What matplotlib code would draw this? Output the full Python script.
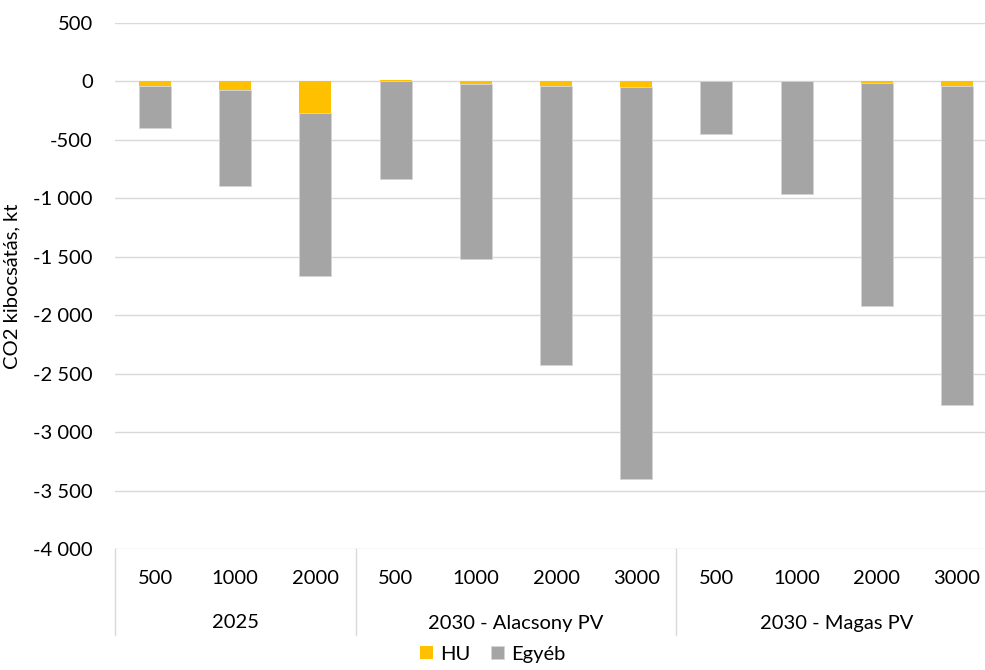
import matplotlib
matplotlib.use("Agg")
import matplotlib.pyplot as plt
import matplotlib.transforms as mtransforms
import numpy as np

# data (kt CO2)
groups = ["2025", "2030 - Alacsony PV", "2030 - Magas PV"]
group_sizes = [3, 4, 4]
capacities = ["500", "1000", "2000", "500", "1000", "2000", "3000", "500", "1000", "2000", "3000"]
hu = [-40, -75, -270, 10, -20, -40, -50, 0, 0, -10, -35]
egyeb = [-362, -822, -1397, -838, -1501, -2387, -3352, -453, -966, -1913, -2734]

yticks = [500, 0, -500, -1000, -1500, -2000, -2500, -3000, -3500, -4000]

plt.rcParams['font.family'] = ['Lato', 'DejaVu Sans']
FS = 14.5

fig = plt.figure(figsize=(9.85, 6.7), dpi=100)
W, H = 985, 670
ax = fig.add_axes([115 / W, (H - 549) / H, (997 - 115) / W, (549 - 23) / H])

x = np.arange(len(capacities))
hu = np.array(hu)
egyeb = np.array(egyeb)
# HU sits on top (nearest zero), Egyéb stacked below it
egy_bottom = np.where(hu < 0, hu, 0)
ax.bar(x, hu, width=0.4, color='#FFC000', zorder=3, label='HU')
ax.bar(x, egyeb, width=0.4, bottom=egy_bottom, color='#A5A5A5', zorder=3,
       edgecolor='#d4d4d4', linewidth=0.6, label='Egyéb')

ax.set_xlim(-0.5, len(capacities) - 0.5)
ax.set_ylim(-4000, 500)
ax.set_yticks(yticks)
ax.set_yticklabels([f"{v:,}".replace(",", " ") for v in yticks], fontsize=FS, color='#000000')
ax.tick_params(axis='y', length=0, pad=16)
ax.set_xticks([])
ax.grid(axis='y', color='#d9d9d9', linewidth=1, zorder=0)
for s in ax.spines.values():
    s.set_visible(False)
ax.set_ylabel("CO2 kibocsátás, kt", fontsize=FS)
ax.yaxis.set_label_coords(-95 / (997 - 115), 0.5)

# category axis: two label rows with separator lines
tr = mtransforms.blended_transform_factory(ax.transData, fig.transFigure)
y_row1 = (H - 578) / H
y_row2 = (H - 623) / H
y_line_top = (H - 549) / H
y_line_bot = (H - 635) / H
for xi, lab in zip(x, capacities):
    ax.text(xi, y_row1, lab, transform=tr, ha='center', va='center', fontsize=FS)

start = 0
edges = [-0.5]
for g, n in zip(groups, group_sizes):
    mid = start + (n - 1) / 2
    ax.text(mid, y_row2, g, transform=tr, ha='center', va='center', fontsize=FS)
    start += n
    edges.append(start - 0.5)
for e in edges:
    ax.plot([e, e], [y_line_top, y_line_bot], transform=tr, color='#d9d9d9',
            linewidth=1, clip_on=False)

fig.legend(loc='lower center', bbox_to_anchor=(0.5, -0.016), ncol=2, frameon=False,
           fontsize=FS, handlelength=0.65, handleheight=0.65, handletextpad=0.35,
           columnspacing=1.0)

fig.savefig("out.png", dpi=100)
